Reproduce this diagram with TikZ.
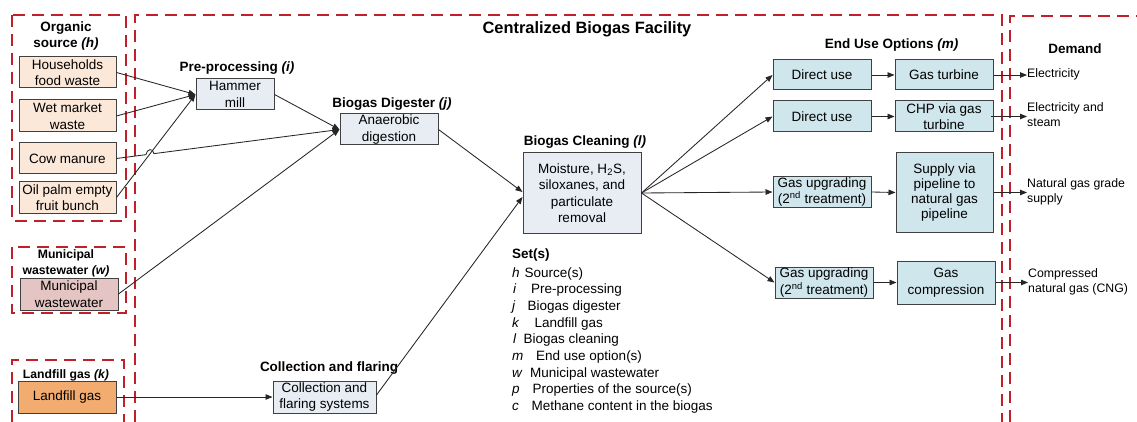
\documentclass[tikz,border=0pt]{standalone}
\usepackage{fontspec}
\setmainfont{Liberation Sans}
\usetikzlibrary{arrows.meta,calc}
\definecolor{dred}{RGB}{192,32,42}
\definecolor{bord}{RGB}{64,64,64}
\definecolor{peach}{RGB}{251,232,217}
\definecolor{pinkish}{RGB}{229,196,196}
\definecolor{orangef}{RGB}{243,172,112}
\definecolor{paleblue}{RGB}{232,237,244}
\definecolor{aqua}{RGB}{208,230,237}
\newcommand{\myfs}{\fontsize{13.5pt}{16.5pt}\selectfont}
\newcommand{\myfsb}{\fontsize{13.5pt}{16pt}\selectfont\bfseries}
\newcommand{\myfss}{\fontsize{12.2pt}{16.5pt}\selectfont\bfseries}
\newcommand{\myfsd}{\fontsize{12.3pt}{15pt}\selectfont}
\newcommand{\myfst}{\fontsize{16.4pt}{19pt}\selectfont\bfseries}
\begin{document}
\begin{tikzpicture}[x=1pt,y=-1pt,
  procbox/.style={draw=bord,line width=1pt,align=center,inner sep=0pt,font=\myfs},
  peachbox/.style={procbox,fill=peach},
  greybox/.style={procbox,fill=paleblue},
  usebox/.style={procbox,fill=aqua},
  ttl/.style={font=\myfsb,align=center,inner sep=0pt},
  smallttl/.style={font=\myfss,align=center,inner sep=0pt},
  frm/.style={draw=dred,line width=2pt,dash pattern=on 12pt off 7pt},
  conn/.style={draw=black!85,line width=0.85pt,-{Triangle[length=7pt,width=5.5pt]}},
  dem/.style={font=\myfsd,align=left,inner sep=0pt,anchor=west},
  setl/.style={font=\myfs,inner sep=0pt,anchor=base west}]
\useasboundingbox (0,0) rectangle (1137,422);
\fill[white] (0,0) rectangle (1137,422);

% dashed frames
\draw[frm] (12,15) rectangle (126,221);
\draw[frm] (12,247) rectangle (126,313);
\draw[frm] (12,422) -- (12,360) -- (124,360) -- (124,422);
\draw[frm] (135,422) -- (135,15) -- (1002,15) -- (1002,422);
\draw[frm] (1010,422) -- (1010,16) -- (1137,16);

% titles
\node[ttl] (tOrg) at (66,36) {Organic\\source \textit{(h)}};
\node[smallttl] (tMun) at (66,263.5) {Municipal\\wastewater \textit{(w)}};
\node[smallttl] (tLf) at (66,375) {Landfill gas \textit{(k)}};
\node[ttl] (tPre) at (237,68) {Pre-processing \textit{(i)}};
\node[ttl] (tDig) at (392,104) {Biogas Digester \textit{(j)}};
\node[ttl] (tCl) at (585,142) {Biogas Cleaning \textit{(l)}};
\node[ttl] (tCol) at (329,368) {Collection and flaring};
\node[font=\myfst,inner sep=0pt] (tFac) at (587,29) {Centralized Biogas Facility};
\node[ttl] (tEnd) at (891.5,45) {End Use Options \textit{(m)}};
\node[ttl] (tDem) at (1075,49) {Demand};

% source boxes
\node[peachbox,minimum width=97pt,minimum height=31pt] (hh) at (67.5,72.5) {Households\\food waste};
\node[peachbox,minimum width=97pt,minimum height=32pt] (wm) at (67.5,116) {Wet market\\waste};
\node[peachbox,minimum width=97pt,minimum height=31pt] (cow) at (67.5,158.5) {Cow manure};
\node[peachbox,minimum width=97pt,minimum height=31pt] (oil) at (67.5,197.5) {Oil palm empty\\fruit bunch};
\node[procbox,fill=pinkish,minimum width=98pt,minimum height=32pt] (mun) at (69,294) {Municipal\\wastewater};
\node[procbox,fill=orangef,minimum width=98pt,minimum height=32pt] (lf) at (67,397) {Landfill gas};

% process boxes
\node[greybox,minimum width=78pt,minimum height=31pt] (mill) at (235,94.5) {Hammer\\mill};
\node[greybox,minimum width=98pt,minimum height=31pt] (dig) at (389,129.5) {Anaerobic\\digestion};
\node[greybox,minimum width=118pt,minimum height=80pt] (clean) at (582,193) {Moisture, H\textsubscript{2}S,\\siloxanes, and\\particulate\\removal};
\node[greybox,minimum width=103pt,minimum height=32pt] (coll) at (324.5,397) {Collection and\\flaring systems};

% end use boxes
\node[usebox,minimum width=98pt,minimum height=30pt] (du1) at (822,75) {Direct use};
\node[usebox,minimum width=98pt,minimum height=30pt] (gt) at (944,75) {Gas turbine};
\node[usebox,minimum width=98pt,minimum height=31pt] (du2) at (822,116.5) {Direct use};
\node[usebox,minimum width=98pt,minimum height=31pt] (chp) at (944,116.5) {CHP via gas\\turbine};
\node[usebox,minimum width=98pt,minimum height=30pt] (gu1) at (822,192) {Gas upgrading\\(2\textsuperscript{nd} treatment)};
\node[usebox,minimum width=97pt,minimum height=79pt,font=\fontsize{13.5pt}{15pt}\selectfont] (sup) at (944.5,192.5) {Supply via\\pipeline to\\natural gas\\pipeline};
\node[usebox,minimum width=98pt,minimum height=31pt] (gu2) at (824,282.5) {Gas upgrading\\(2\textsuperscript{nd} treatment)};
\node[usebox,minimum width=98pt,minimum height=43pt] (gc) at (946,282.5) {Gas\\compression};

% demand texts
\node[dem] (elec) at (1027,74) {Electricity};
\node[dem] (elst) at (1027,115) {Electricity and\\steam};
\node[dem] (ngs) at (1027,191.5) {Natural gas grade\\supply};
\node[dem] (cng) at (1028,281.5) {Compressed\\natural gas (CNG)};

% sets list
\node[setl,font=\myfsb] (sets) at (512,258) {Set(s)};
\node[setl] (lh) at (512,277) {\textit{h}};
\node[setl] (dh) at (524.5,277) {Source(s)};
\node[setl] (li) at (513,293) {\textit{i}};
\node[setl] (di) at (531,293) {Pre-processing};
\node[setl] (lj) at (512,310) {\textit{j}};
\node[setl] (dj) at (527.5,310) {Biogas digester};
\node[setl] (lk) at (512,327) {\textit{k}};
\node[setl] (dk) at (534.5,327) {Landfill gas};
\node[setl] (ll) at (513,343) {\textit{l}};
\node[setl] (dl) at (523.5,343) {Biogas cleaning};
\node[setl] (lm) at (512,360) {\textit{m}};
\node[setl] (dm) at (536,360) {End use option(s)};
\node[setl] (lw) at (512,377) {\textit{w}};
\node[setl] (dw) at (530,377) {Municipal wastewater};
\node[setl] (lp) at (512,393) {\textit{p}};
\node[setl] (dp) at (532.5,393) {Properties of the source(s)};
\node[setl] (lc) at (512,410) {\textit{c}};
\node[setl] (dc) at (531.5,410) {Methane content in the biogas};

% connectors: sources to pre-processing / digester
\draw[conn] (hh.east) -- (mill.west);
\draw[conn] (wm.east) -- (mill.west);
\draw[conn] (oil.east) -- (mill.west);
\draw[conn] (cow.east) -- ($(cow.east)!0.132!(dig.west)$)
  .. controls +(1,-6) and +(-1,-6) .. ($(cow.east)!0.168!(dig.west)$) -- (dig.west);
\draw[conn] (mun.east) -- (dig.west);
\draw[conn] (mill.east) -- (dig.west);
\draw[conn] (dig.east) -- ($(clean.west)+(0,-1)$);
\draw[conn] (lf.east) -- (coll.west);
\draw[conn] ($(coll.east)+(0,-2)$) -- ($(clean.west)+(0,4)$);

% cleaning to end uses
\draw[conn] (clean.east) -- (du1.west);
\draw[conn] (clean.east) -- (du2.west);
\draw[conn] (clean.east) -- (gu1.west);
\draw[conn] (clean.east) -- (gu2.west);
\draw[conn] (du1.east) -- (gt.west);
\draw[conn] (du2.east) -- (chp.west);
\draw[conn] (gu1.east) -- (sup.west);
\draw[conn] (gu2.east) -- (gc.west);

% to demand
\draw[conn] (gt.east) -- (gt.east -| elec.west);
\draw[conn] ($(chp.east)+(-3,0)$) -- (chp.east -| elst.west);
\draw[conn] (sup.east) -- (sup.east -| ngs.west);
\draw[conn] (gc.east) -- (gc.east -| cng.west);
\end{tikzpicture}
\end{document}
